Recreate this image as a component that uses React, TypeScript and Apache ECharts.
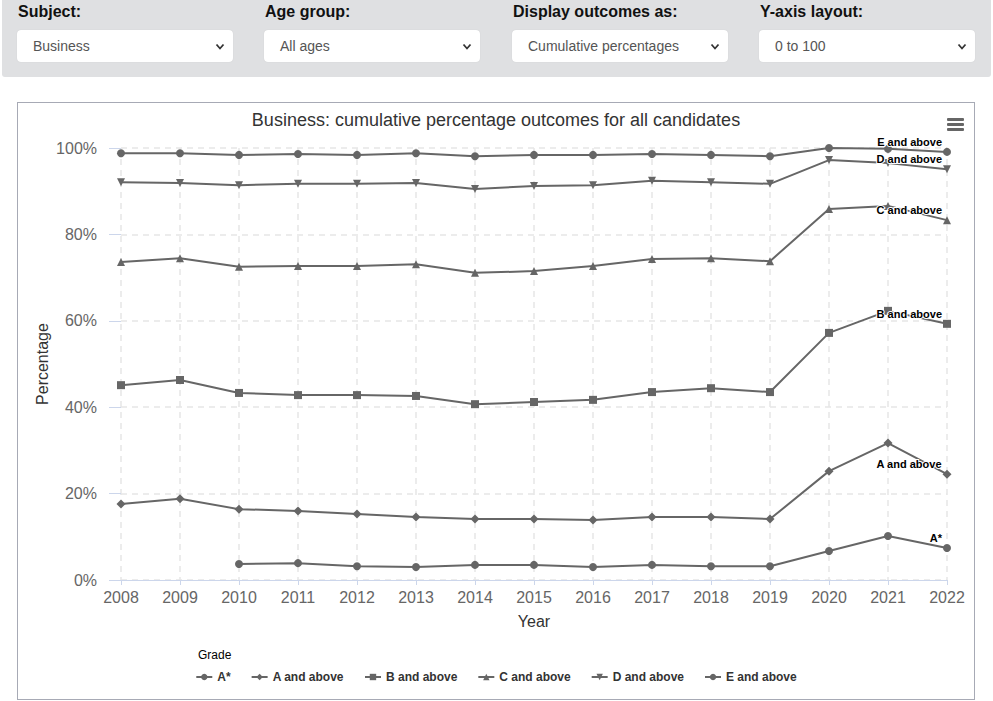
import React, { useEffect, useRef } from "react";
import * as echarts from "echarts";

const years = ["2008", "2009", "2010", "2011", "2012", "2013", "2014", "2015", "2016", "2017", "2018", "2019", "2020", "2021", "2022"];
const aStar = [null, null, 3.7, 3.9, 3.2, 3.0, 3.5, 3.5, 3.0, 3.5, 3.2, 3.2, 6.7, 10.2, 7.4];
const aAbove = [17.6, 18.8, 16.4, 16.0, 15.3, 14.6, 14.1, 14.1, 13.9, 14.6, 14.6, 14.1, 25.2, 31.7, 24.5];
const bAbove = [45.1, 46.3, 43.3, 42.8, 42.8, 42.6, 40.7, 41.2, 41.7, 43.5, 44.4, 43.5, 57.2, 62.3, 59.3];
const cAbove = [73.6, 74.5, 72.5, 72.7, 72.7, 73.1, 71.1, 71.5, 72.7, 74.3, 74.5, 73.8, 85.9, 86.6, 83.3];
const dAbove = [92.1, 91.9, 91.4, 91.7, 91.7, 91.9, 90.5, 91.2, 91.4, 92.4, 92.1, 91.7, 97.2, 96.5, 95.1];
const eAbove = [98.8, 98.8, 98.4, 98.6, 98.4, 98.8, 98.1, 98.4, 98.4, 98.6, 98.4, 98.1, 100, 99.8, 99.1];
const yTicks = [0, 20, 40, 60, 80, 100];

const seriesNames = ["A*", "A and above", "B and above", "C and above", "D and above", "E and above"];
const seriesData = [aStar, aAbove, bAbove, cAbove, dAbove, eAbove];
const seriesSymbols = ["circle", "diamond", "rect", "triangle", "path://M0,0L10,0L5,10Z", "circle"];

const FONT = "'Liberation Sans', Arial, Helvetica, sans-serif";

const filters = [
  { label: "Subject:", value: "Business", left: 17 },
  { label: "Age group:", value: "All ages", left: 264 },
  { label: "Display outcomes as:", value: "Cumulative percentages", left: 512 },
  { label: "Y-axis layout:", value: "0 to 100", left: 759 },
];

function Chevron() {
  return (
    <svg width="10" height="8" viewBox="0 0 10 8" style={{ position: "absolute", right: 8, top: 13 }}>
      <polyline points="1.5,1.5 5,5.5 8.5,1.5" fill="none" stroke="#333" strokeWidth="1.8" />
    </svg>
  );
}

export default function App() {
  const ref = useRef<HTMLDivElement>(null);

  useEffect(() => {
    if (!ref.current) return;
    const chart = echarts.init(ref.current, null, { renderer: "svg" });
    const series = seriesNames.map((name, i) => {
      const arr = seriesData[i];
      const last = arr.length - 1;
      const data = arr.map((v, j) =>
        j === last
          ? {
              value: v,
              label: {
                show: true,
                formatter: name,
                position: "left",
                distance: 1,
                offset: [0, -10],
                color: "#000",
                fontSize: 11,
                fontWeight: "bold",
                fontFamily: FONT,
                textBorderColor: "#fff",
                textBorderWidth: 2,
              },
            }
          : v
      );
      return {
        name,
        type: "line",
        data,
        symbol: seriesSymbols[i],
        symbolSize: seriesSymbols[i] === "diamond" ? 9 : 8,
        showAllSymbol: true,
        connectNulls: false,
        lineStyle: { color: "#666666", width: 2 },
        itemStyle: { color: "#666666" },
        emphasis: { disabled: true },
      };
    });

    chart.setOption({
      animation: false,
      textStyle: { fontFamily: FONT },
      title: {
        text: "Business: cumulative percentage outcomes for all candidates",
        left: "center",
        top: 3,
        textStyle: { fontSize: 18, fontWeight: "normal", color: "#333333", fontFamily: FONT },
      },
      grid: { left: 103, right: 27, top: 45, bottom: 119, containLabel: false },
      legend: {
        data: seriesNames,
        left: "center",
        top: 563,
        itemWidth: 16,
        itemHeight: 8,
        itemGap: 20,
        textStyle: { fontSize: 12, fontWeight: "bold", color: "#333333", fontFamily: FONT },
      },
      xAxis: {
        type: "category",
        data: years,
        boundaryGap: false,
        name: "Year",
        nameLocation: "middle",
        nameGap: 33,
        nameMoveOverlap: false,
        nameTextStyle: { fontSize: 16, color: "#333333", fontFamily: FONT },
        axisLine: { show: true, lineStyle: { color: "#ccd6eb" } },
        axisTick: { show: true, length: 5, lineStyle: { color: "#ccd6eb" } },
        axisLabel: { color: "#666666", fontSize: 16, margin: 9, fontFamily: FONT },
        splitLine: { show: true, lineStyle: { color: "#e6e6e6", type: [6, 5], width: 1.5 } },
      },
      yAxis: {
        type: "value",
        min: yTicks[0],
        max: yTicks[yTicks.length - 1],
        interval: 20,
        name: "Percentage",
        nameLocation: "middle",
        nameGap: 71,
        nameMoveOverlap: false,
        nameTextStyle: { fontSize: 16, color: "#333333", fontFamily: FONT },
        axisLine: { show: false },
        axisTick: { show: true, length: 12, lineStyle: { color: "#ccd6eb" } },
        axisLabel: { color: "#666666", fontSize: 16, margin: 24, formatter: "{value}%", fontFamily: FONT },
        splitLine: { show: true, lineStyle: { color: "#e6e6e6", type: [6, 5], width: 1.5 } },
      },
      graphic: [
        {
          type: "text",
          left: 180,
          top: 546,
          style: { text: "Grade", fontSize: 12, fill: "#000", fontFamily: FONT },
        },
        { type: "rect", shape: { x: 929, y: 15, width: 17, height: 3, r: 1 }, style: { fill: "#666666" } },
        { type: "rect", shape: { x: 929, y: 20, width: 17, height: 3, r: 1 }, style: { fill: "#666666" } },
        { type: "rect", shape: { x: 929, y: 25, width: 17, height: 3, r: 1 }, style: { fill: "#666666" } },
      ],
      series,
    });
    return () => chart.dispose();
  }, []);

  return (
    <div style={{ position: "absolute", left: 0, top: 0, width: 993, height: 701, background: "#fff", fontFamily: FONT }}>
      <div style={{ position: "absolute", left: 2, top: 0, width: 989, height: 77, background: "#dfe0e2", borderRadius: "0 0 3px 3px" }} />
      {filters.map((f) => (
        <React.Fragment key={f.label}>
          <div style={{ position: "absolute", left: f.left + 1, top: 2, fontSize: 16, fontWeight: "bold", color: "#111", lineHeight: "20px" }}>
            {f.label}
          </div>
          <div
            style={{
              position: "absolute",
              left: f.left,
              top: 30,
              width: 216,
              height: 32,
              background: "#fff",
              borderRadius: 4,
              boxShadow: "0 0 1px rgba(0,0,0,0.15)",
            }}
          >
            <div style={{ position: "absolute", left: 16, top: 8, fontSize: 14, color: "#555", lineHeight: "16px" }}>{f.value}</div>
            <Chevron />
          </div>
        </React.Fragment>
      ))}
      <div style={{ position: "absolute", left: 17, top: 102, width: 956, height: 596, border: "1px solid #a7aab5" }}>
        <div ref={ref} style={{ width: 956, height: 596 }} />
      </div>
    </div>
  );
}
